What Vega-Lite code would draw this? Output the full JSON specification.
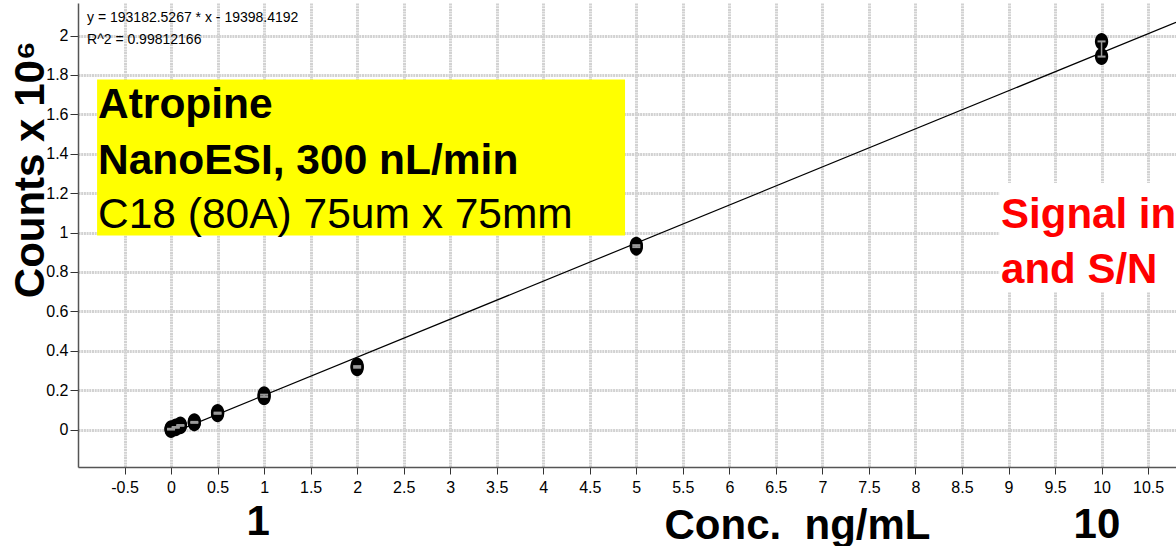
{
  "$schema": "https://vega.github.io/schema/vega-lite/v6.json",
  "width": 1098,
  "height": 464,
  "autosize": {"type": "none"},
  "padding": {"left": 78, "top": 3, "right": 0, "bottom": 79},
  "background": "white",
  "config": {"view": {"stroke": null}, "font": "Liberation Sans"},
  "encoding": {
    "x": {
      "field": "x", "type": "quantitative",
      "scale": {"domain": [-1, 10.8], "nice": false, "zero": false},
      "axis": {
        "values": [-0.5, 0, 0.5, 1, 1.5, 2, 2.5, 3, 3.5, 4, 4.5, 5, 5.5, 6, 6.5, 7, 7.5, 8, 8.5, 9, 9.5, 10, 10.5],
        "format": ".1~f",
        "labelExpr": "replace(datum.label, '\u2212', '-')",
        "labelFont": "Liberation Sans",
        "labelFontSize": 16, "labelColor": "#000", "labelPadding": 5,
        "tickSize": 7, "tickColor": "#333", "domainColor": "#555", "domainWidth": 1.5,
        "grid": true, "gridColor": "#d2d2d2", "gridWidth": 3, "gridDash": [2, 0.7],
        "title": "Conc.\u00a0 ng/mL", "titleFont": "Liberation Sans", "titleFontSize": 42, "titleFontWeight": "bold",
        "titleColor": "#000", "titleAnchor": null, "titleAlign": "center", "titleBaseline": "alphabetic",
        "titleX": 719, "titleY": 71
      }
    },
    "y": {
      "field": "y", "type": "quantitative",
      "scale": {"domain": [-0.19, 2.165], "nice": false, "zero": false},
      "axis": {
        "values": [0, 0.2, 0.4, 0.6, 0.8, 1, 1.2, 1.4, 1.6, 1.8, 2],
        "format": ".1~f",
        "labelFont": "Liberation Sans",
        "labelFontSize": 16, "labelColor": "#000", "labelPadding": 2,
        "tickSize": 8, "tickColor": "#333", "domainColor": "#555", "domainWidth": 1.5,
        "grid": true, "gridColor": "#d2d2d2", "gridWidth": 3, "gridDash": [2, 0.7],
        "title": "Counts x 10\u2076", "titleFont": "Liberation Sans", "titleFontSize": 42, "titleFontWeight": "bold",
        "titleColor": "#000", "titleAnchor": null, "titleAngle": -90, "titleAlign": "center", "titleBaseline": "middle",
        "titleX": -48, "titleY": 166
      }
    }
  },
  "layer": [
    {
      "data": {"values": [{"x": -0.795, "x2": 4.879, "y": 1.777, "y2": 0.985}]},
      "mark": {"type": "rect", "color": "#ffff00"},
      "encoding": {"x2": {"field": "x2"}, "y2": {"field": "y2"}}
    },
    {
      "data": {"values": [
        {"x": -0.785, "y": 1.581, "text": "Atropine"},
        {"x": -0.785, "y": 1.297, "text": "NanoESI, 300 nL/min"}
      ]},
      "mark": {"type": "text", "align": "left", "baseline": "alphabetic", "font": "Liberation Sans", "fontSize": 42.5, "fontWeight": "bold", "color": "#000"},
      "encoding": {"text": {"field": "text"}}
    },
    {
      "data": {"values": [
        {"x": -0.785, "y": 1.023, "text": "C18 (80A) 75um x 75mm"}
      ]},
      "mark": {"type": "text", "align": "left", "baseline": "alphabetic", "font": "Liberation Sans", "fontSize": 42.5, "fontWeight": "normal", "color": "#000"},
      "encoding": {"text": {"field": "text"}}
    },
    {
      "data": {"values": [
        {"x": -0.903, "y": 2.069, "text": "y = 193182.5267 * x - 19398.4192"},
        {"x": -0.903, "y": 1.957, "text": "R^2 = 0.99812166"}
      ]},
      "mark": {"type": "text", "align": "left", "baseline": "alphabetic", "font": "Liberation Sans", "fontSize": 14, "color": "#000"},
      "encoding": {"text": {"field": "text"}}
    },
    {
      "data": {"values": [{"x": 0, "y": -0.0194}, {"x": 10.8, "y": 2.067}]},
      "mark": {"type": "line", "color": "#000", "strokeWidth": 1.2},
      "encoding": {}
    },
    {
      "data": {"name": "pts", "values": [
        {"x": 0, "y": 0.000}, {"x": 0, "y": 0.004},
        {"x": 0.05, "y": 0.009}, {"x": 0.05, "y": 0.013},
        {"x": 0.1, "y": 0.019}, {"x": 0.1, "y": 0.023},
        {"x": 0.25, "y": 0.034}, {"x": 0.25, "y": 0.039},
        {"x": 0.5, "y": 0.080}, {"x": 0.5, "y": 0.086},
        {"x": 1, "y": 0.166}, {"x": 1, "y": 0.177},
        {"x": 2, "y": 0.314}, {"x": 2, "y": 0.322},
        {"x": 5, "y": 0.926}, {"x": 5, "y": 0.936},
        {"x": 10, "y": 1.893}, {"x": 10, "y": 1.970}
      ]},
      "layer": [
        {
          "mark": {"type": "point", "shape": "M0,-1A0.78,1 0 1,1 0,1A0.78,1 0 1,1 0,-1Z", "size": 290, "filled": true, "color": "#000", "opacity": 1},
          "encoding": {}
        },
        {
          "mark": {"type": "rule", "color": "#9a9a9a", "strokeWidth": 1.5},
          "encoding": {"y": {"aggregate": "min", "field": "y", "type": "quantitative"}, "y2": {"aggregate": "max", "field": "y"}}
        },
        {
          "mark": {"type": "point", "shape": "M-1,0L1,0", "size": 64, "filled": false, "color": "#9a9a9a", "strokeWidth": 2, "opacity": 1},
          "encoding": {"y": {"aggregate": "min", "field": "y", "type": "quantitative"}}
        },
        {
          "mark": {"type": "point", "shape": "M-1,0L1,0", "size": 64, "filled": false, "color": "#9a9a9a", "strokeWidth": 2, "opacity": 1},
          "encoding": {"y": {"aggregate": "max", "field": "y", "type": "quantitative"}}
        }
      ]
    },
    {
      "data": {"values": [{"x": 8.9, "x2": 10.8, "y": 1.251, "y2": 0.698}]},
      "mark": {"type": "rect", "color": "#ffffff"},
      "encoding": {"x2": {"field": "x2"}, "y2": {"field": "y2"}}
    },
    {
      "data": {"values": [
        {"x": 8.92, "y": 1.023, "text": "Signal in"},
        {"x": 8.92, "y": 0.744, "text": "and S/N"}
      ]},
      "mark": {"type": "text", "align": "left", "baseline": "alphabetic", "font": "Liberation Sans", "fontSize": 42, "fontWeight": "bold", "color": "#ff0000"},
      "encoding": {"text": {"field": "text"}}
    },
    {
      "data": {"values": [
        {"x": 0.935, "y": -0.536, "text": "1"},
        {"x": 9.95, "y": -0.55, "text": "10"}
      ]},
      "mark": {"type": "text", "align": "center", "baseline": "alphabetic", "font": "Liberation Sans", "fontSize": 42, "fontWeight": "bold", "color": "#000"},
      "encoding": {"text": {"field": "text"}}
    }
  ]
}
